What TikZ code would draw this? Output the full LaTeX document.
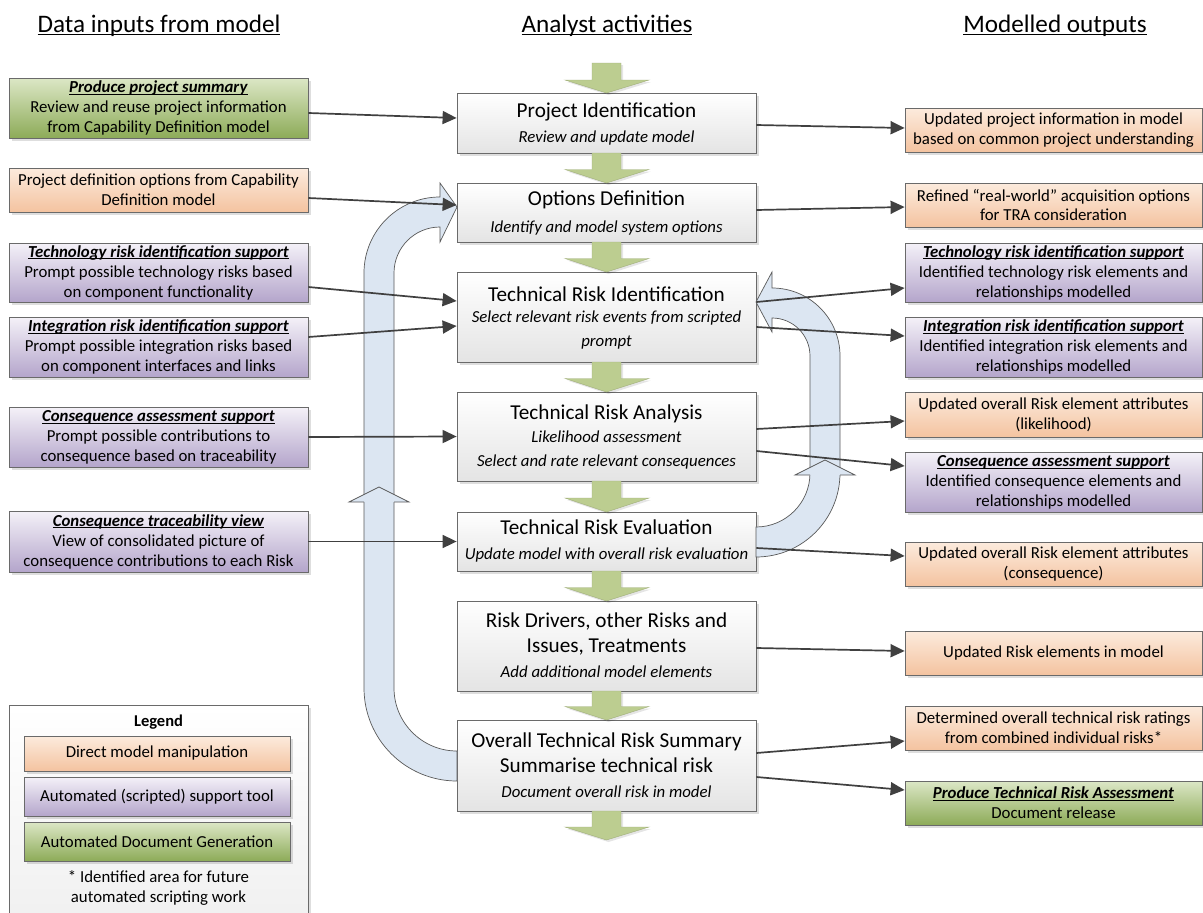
\documentclass[tikz,border=0pt]{standalone}
\usepackage{fontspec}
\setmainfont{Carlito}
\usetikzlibrary{arrows.meta,calc,shadows}
\definecolor{orT}{HTML}{FCEBDD}
\definecolor{orB}{HTML}{F4C3A0}
\definecolor{puT}{HTML}{F4F1F8}
\definecolor{puB}{HTML}{B4A5CB}
\definecolor{grT}{HTML}{DCE7C6}
\definecolor{grB}{HTML}{8DAB58}
\definecolor{ceT}{HTML}{FFFFFF}
\definecolor{ceB}{HTML}{E4E4E4}
\definecolor{loopblue}{HTML}{DCE6F2}
\definecolor{garrow}{HTML}{BCCD90}
\definecolor{conncol}{HTML}{404040}
\definecolor{bord}{HTML}{6A6A6A}
\newcommand\myul[1]{\setbox0\hbox{#1}\rlap{\rule[-2.4pt]{\wd0}{1pt}}\box0}
\newcommand\ttl[1]{\myul{\textbf{\textit{#1}}}}
\newcommand\hul[1]{\setbox0\hbox{#1}\rlap{\rule[-2.8pt]{\wd0}{1.3pt}}\box0}
\newcommand\gdown[3]{\path[garr] (592,#1) -- (621,#1) -- (621,#2) -- (649,#2) -- (606.5,#3) -- (565,#2) -- (592,#2) -- cycle;}
\begin{document}
\begin{tikzpicture}[x=1pt,y=-1pt,
  shad/.style={drop shadow={shadow xshift=3pt,shadow yshift=-3pt,fill=black,opacity=0.13}},
  sidebox/.style={draw=bord,line width=0.8pt,inner sep=0pt,align=center,
    font=\fontsize{16.8}{20}\selectfont,shad},
  lbox/.style={sidebox,minimum width=299pt},
  rbox/.style={sidebox,minimum width=297pt},
  orange/.style={top color=orT,bottom color=orB},
  purple/.style={top color=puT,bottom color=puB},
  green/.style={top color=grT,bottom color=grB},
  cbox/.style={draw=bord,line width=0.8pt,minimum width=299pt,inner sep=0pt,
    top color=ceT,bottom color=ceB,shad},
  ctitle/.style={anchor=base,inner sep=0pt,font=\fontsize{21.2}{24}\selectfont},
  csub/.style={anchor=base,inner sep=0pt,font=\fontsize{16.8}{20}\selectfont\itshape},
  hdr/.style={anchor=base,inner sep=0pt,font=\fontsize{25.2}{30}\selectfont},
  conn/.style={draw=conncol,line width=1.7pt,-{Triangle[length=14pt,width=13pt]}},
  loopst/.style={fill=loopblue,draw=black!65,line width=0.7pt},
  garr/.style={fill=garrow,draw=garrow!85!black,line width=0.4pt,
    drop shadow={shadow xshift=2pt,shadow yshift=-2pt,fill=black,opacity=0.1}}]
\useasboundingbox (0,0) rectangle (1203,913);
\fill[white] (0,0) rectangle (1203,913);

% headers
\node[hdr] (h1) at (159,32) {\hul{Data inputs from model}};
\node[hdr] (h2) at (607,32) {\hul{Analyst activities}};
\node[hdr] (h3) at (1055,32) {\hul{Modelled outputs}};

% left boxes
\node[lbox,green,minimum height=60pt] (L1) at (158.5,108) {\ttl{Produce project summary}\\Review and reuse project information\\from Capability Definition model};
\node[lbox,orange,minimum height=44pt] (L2) at (158.5,190) {Project definition options from Capability\\Definition model};
\node[lbox,purple,minimum height=59pt] (L3) at (158.5,272.5) {\ttl{Technology risk identification support}\\Prompt possible technology risks based\\on component functionality};
\node[lbox,purple,minimum height=60pt] (L4) at (158.5,347) {\ttl{Integration risk identification support}\\Prompt possible integration risks based\\on component interfaces and links};
\node[lbox,purple,minimum height=60pt] (L5) at (158.5,437) {\ttl{Consequence assessment support}\\Prompt possible contributions to\\consequence based on traceability};
\node[lbox,purple,minimum height=61pt] (L6) at (158.5,541.5) {\ttl{Consequence traceability view}\\View of consolidated picture of\\consequence contributions to each Risk};

% right boxes
\node[rbox,orange,minimum height=44pt] (R1) at (1053.5,130) {Updated project information in model\\based on common project understanding};
\node[rbox,orange,minimum height=44pt] (R2) at (1053.5,205) {Refined “real-world” acquisition options\\for TRA consideration};
\node[rbox,purple,minimum height=59pt] (R3) at (1053.5,272.5) {\ttl{Technology risk identification support}\\Identified technology risk elements and\\relationships modelled};
\node[rbox,purple,minimum height=60pt] (R4) at (1053.5,347) {\ttl{Integration risk identification support}\\Identified integration risk elements and\\relationships modelled};
\node[rbox,orange,minimum height=45pt] (R5) at (1053.5,414.5) {Updated overall Risk element attributes\\(likelihood)};
\node[rbox,purple,minimum height=60pt] (R6) at (1053.5,482) {\ttl{Consequence assessment support}\\Identified consequence elements and\\relationships modelled};
\node[rbox,orange,minimum height=44pt] (R7) at (1053.5,564) {Updated overall Risk element attributes\\(consequence)};
\node[rbox,orange,minimum height=44pt] (R8) at (1053.5,653) {Updated Risk elements in model};
\node[rbox,orange,minimum height=44pt] (R9) at (1053.5,728) {Determined overall technical risk ratings\\from combined individual risks*};
\node[rbox,green,minimum height=44pt] (R10) at (1053.5,803) {\ttl{Produce Technical Risk Assessment}\\Document release};

% centre boxes
\node[cbox,minimum height=60pt] (C1) at (606.5,123) {};
\node[cbox,minimum height=59pt] (C2) at (606.5,212.5) {};
\node[cbox,minimum height=90pt] (C3) at (606.5,317) {};
\node[cbox,minimum height=89pt] (C4) at (606.5,436.5) {};
\node[cbox,minimum height=59pt] (C5) at (606.5,541.5) {};
\node[cbox,minimum height=90pt] (C6) at (606.5,646) {};
\node[cbox,minimum height=91pt] (C7) at (606.5,765.5) {};

\node[ctitle] (c1t) at (606.5,117.7) {Project Identification};
\node[csub] (c1s) at (606.5,142.3) {Review and update model};
\node[ctitle] (c2t) at (606.5,205.7) {Options Definition};
\node[csub] (c2s) at (606.5,232.3) {Identify and model system options};
\node[ctitle] (c3t) at (606.5,301.7) {Technical Risk Identification};
\node[csub] (c3s) at (606.5,322.3) {Select relevant risk events from scripted};
\node[csub] (c3u) at (606.5,346.3) {prompt};
\node[ctitle] (c4t) at (606.5,419.7) {Technical Risk Analysis};
\node[csub] (c4s) at (606.5,442.3) {Likelihood assessment};
\node[csub] (c4u) at (606.5,466.3) {Select and rate relevant consequences};
\node[ctitle] (c5t) at (606.5,534.7) {Technical Risk Evaluation};
\node[csub] (c5s) at (606.5,559.3) {Update model with overall risk evaluation};
\node[ctitle] (c6t) at (606.5,627.7) {Risk Drivers, other Risks and};
\node[ctitle] (c6u) at (606.5,652.7) {Issues, Treatments};
\node[csub] (c6s) at (606.5,677.3) {Add additional model elements};
\node[ctitle] (c7t) at (606.5,747.7) {Overall Technical Risk Summary};
\node[ctitle] (c7u) at (606.5,772.7) {Summarise technical risk};
\node[csub] (c7s) at (606.5,797.3) {Document overall risk in model};

% green flow arrows
\gdown{63}{80}{93}
\gdown{153}{169.5}{183}
\gdown{242}{258.5}{272}
\gdown{362}{378.5}{392}
\gdown{481}{498}{512}
\gdown{571}{587.5}{601}
\gdown{691}{706.5}{720}
\gdown{811}{827}{840}

% left feedback loop
\path[loopst] (457,781) .. controls (405.6,781) and (364,739.4) .. (364,688)
  -- (364,273) .. controls (364,231) and (398,197) .. (440,197)
  -- (440,183) -- (457,207) -- (440,242) -- (440,227)
  .. controls (414.6,227) and (394,247.6) .. (394,273)
  -- (394,688) .. controls (394,722.8) and (422.2,751) .. (457,751) -- cycle;
\path[loopst] (364,502) -- (349,502) -- (379,487) -- (409,502) -- (394,502);

% right feedback loop
\path[loopst] (756,527) .. controls (785.8,527) and (810,502.8) .. (810,473)
  -- (810,356) .. controls (810,335) and (793,318) .. (772,318)
  -- (772,332) -- (756,302) -- (772,272) -- (772,288)
  .. controls (809.6,288) and (840,318.4) .. (840,356)
  -- (840,473) .. controls (840,519.4) and (802.4,557) .. (756,557) -- cycle;
\path[loopst] (810,475) -- (795,475) -- (825,460) -- (855,475) -- (840,475);

% connectors left -> centre
\draw[conn] ($(L1.east)+(0,5)$) -- ($(C1.west)+(0,-5)$);
\draw[conn] ($(L2.east)+(0,8)$) -- ($(C2.west)+(0,-7.5)$);
\draw[conn] ($(L3.east)+(0,14.5)$) -- ($(C3.west)+(0,-16)$);
\draw[conn] ($(L4.east)+(0,-10)$) -- ($(C3.west)+(0,9)$);
\draw[conn] (L5.east) -- (C4.west);
\draw[conn] (L6.east) -- (C5.west);

% connectors centre -> right
\draw[conn] ($(C1.east)+(0,2)$) -- ($(R1.west)+(0,-2)$);
\draw[conn] ($(C2.east)+(0,-2.5)$) -- ($(R2.west)+(0,2)$);
\draw[conn] ($(C3.east)+(0,-15)$) -- ($(R3.west)+(0,15.5)$);
\draw[conn] ($(C3.east)+(0,10)$) -- ($(R4.west)+(0,-11)$);
\draw[conn] ($(C4.east)+(0,-7.5)$) -- ($(R5.west)+(0,6.5)$);
\draw[conn] ($(C4.east)+(0,14.5)$) -- ($(R6.west)+(0,-16)$);
\draw[conn] ($(C5.east)+(0,6.5)$) -- ($(R7.west)+(0,-8)$);
\draw[conn] ($(C6.east)+(0,2)$) -- ($(R8.west)+(0,-2)$);
\draw[conn] ($(C7.east)+(0,-12.5)$) -- ($(R9.west)+(0,13)$);
\draw[conn] ($(C7.east)+(0,11.5)$) -- ($(R10.west)+(0,-13)$);

% legend
\node[draw=bord,line width=0.8pt,minimum width=299pt,minimum height=225pt,inner sep=0pt,
  top color=white,bottom color=black!6,shad] (leg) at (158.5,817.5) {};
\node[anchor=base,inner sep=0pt,font=\fontsize{16.5}{20}\selectfont\bfseries] (legt) at (158.5,726) {Legend};
\node[sidebox,orange,minimum width=266pt,minimum height=35pt] (lg1) at (157,753.5) {Direct model manipulation};
\node[sidebox,purple,minimum width=266pt,minimum height=39pt] (lg2) at (157,796.5) {Automated (scripted) support tool};
\node[sidebox,green,minimum width=266pt,minimum height=39pt] (lg3) at (157,841.5) {Automated Document Generation};
\node[inner sep=0pt,align=center,font=\fontsize{16.8}{20}\selectfont] (lgn) at (158.5,888) {* Identified area for future\\automated scripting work};
\end{tikzpicture}
\end{document}
